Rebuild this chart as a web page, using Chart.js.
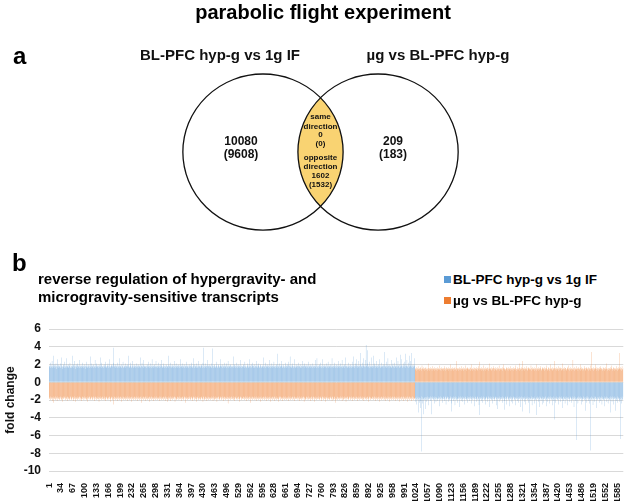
<!DOCTYPE html>
<html>
<head>
<meta charset="utf-8">
<script src="https://cdn.jsdelivr.net/npm/chart.js@4"></script>
<style>
body { margin: 0; background: #fff; font-family: 'Liberation Sans', Arial, sans-serif; color: #000; }
#page { position: relative; width: 625px; height: 501px; overflow: hidden; }
.txt { position: absolute; font-weight: bold; white-space: nowrap; }
#mainTitle { left: 0; width: 646px; text-align: center; top: 2px; font-size: 20px; line-height: 20px; }
#panelA { left: 13px; top: 44px; font-size: 24px; line-height: 24px; }
#panelB { left: 12px; top: 251px; font-size: 24px; line-height: 24px; }
#subTitle { left: 38px; top: 270px; font-size: 15px; line-height: 18px; }
.legendItem { position: absolute; left: 444px; font-weight: bold; font-size: 13.5px; line-height: 13.5px; white-space: nowrap; }
.legendItem span { display: inline-block; width: 7px; height: 7px; margin-right: 2px; vertical-align: 1px; }
#vennChart { position: absolute; left: 0; top: 0; }
#barChart { position: absolute; left: 0; top: 300px; }
</style>
</head>
<body>
<div id="page">
  <canvas id="vennChart" width="625" height="250"></canvas>
  <canvas id="barChart" width="625" height="201"></canvas>
  <div class="txt" id="mainTitle">parabolic flight experiment</div>
  <div class="txt" id="panelA">a</div>
  <div class="txt" id="panelB">b</div>
  <div class="txt" id="subTitle">reverse regulation of hypergravity- and<br>microgravity-sensitive transcripts</div>
  <div class="legendItem" id="legend0" style="top:273px"><span style="background:#5b9bd5"></span>BL-PFC hyp-g vs 1g IF</div>
  <div class="legendItem" id="legend1" style="top:294px"><span style="background:#ed7d31"></span>µg vs BL-PFC hyp-g</div>
</div>
<script>
// ---- venn diagram (panel a) ----
const vennSets = ['BL-PFC hyp-g vs 1g IF', 'µg vs BL-PFC hyp-g'];
const uniqueCounts = [10080, 209];
const uniqueCountsAlt = [9608, 183];
const sameDirection = [0, 0];
const oppositeDirection = [1602, 1532];

// ---- fold changes (panel b) ----
const seriesNames = ['BL-PFC hyp-g vs 1g IF', 'µg vs BL-PFC hyp-g'];
const tickEvery = 33;

// transcripts 1-1021: up in hyp-g, down in µg
const hypUp = [
1.9,1.7,1.8,2.2,1.6,1.8,1.9,1.7,2.4,1.8,1.6,1.9,3.0,1.7,1.8,2.0,1.6,1.9,1.7,2.1,1.8,1.5,1.9,2.6,1.7,1.8,1.6,2.0,1.9,1.7,
1.8,2.1,1.6,1.7,2.8,1.9,1.7,1.5,1.8,2.0,1.7,1.9,1.6,2.3,1.8,1.7,1.9,1.6,1.8,2.7,1.7,1.9,1.8,1.6,2.0,1.7,1.8,1.9,2.2,1.6,
1.7,1.9,1.8,1.6,3.0,1.8,1.7,2.0,1.9,1.6,1.8,2.4,1.7,1.9,1.5,1.8,2.0,1.7,1.6,1.9,2.1,1.8,1.7,1.9,1.6,2.5,1.8,1.7,1.9,1.8,
1.6,1.9,1.8,2.2,1.7,1.8,1.6,1.9,2.0,1.7,1.8,1.5,1.9,1.7,2.3,1.8,1.6,1.9,1.7,1.8,2.0,1.7,1.9,1.6,1.8,2.9,1.7,1.8,2.1,1.6,
1.9,1.7,1.8,2.0,1.6,1.9,1.8,1.7,2.5,1.8,1.6,1.9,1.7,2.1,1.8,1.7,1.9,1.6,1.8,2.0,1.7,1.9,1.8,2.8,1.7,1.6,1.9,2.2,1.8,1.7,
1.8,1.6,1.9,1.7,2.0,1.8,1.7,2.3,1.9,1.6,1.8,1.7,1.9,1.8,2.1,1.6,1.8,1.9,1.7,2.6,1.8,1.7,1.6,1.9,1.8,2.0,1.7,1.9,1.8,2.2,
3.9,1.8,1.7,1.9,1.6,1.8,2.0,1.7,1.9,1.8,1.6,2.2,1.8,1.7,1.9,1.6,1.8,2.7,1.7,1.9,1.8,1.6,2.0,1.7,1.8,1.9,2.3,1.7,1.6,1.8,
1.9,1.7,1.8,2.1,1.6,1.9,1.8,1.7,2.0,1.8,1.7,3.0,1.9,1.6,1.8,1.7,2.2,1.9,1.8,1.6,1.7,1.9,2.4,1.8,1.7,1.6,1.9,1.8,2.0,1.7,
1.8,1.6,1.9,1.7,2.1,1.8,1.9,1.7,1.6,1.8,2.0,1.7,1.9,1.8,2.8,1.7,1.6,1.9,1.8,2.2,1.7,1.8,1.9,1.6,2.5,1.8,1.7,1.9,1.8,1.7,
1.9,1.8,1.6,2.0,1.7,1.9,1.8,2.3,1.7,1.6,1.8,1.9,1.7,2.1,1.8,1.6,1.9,2.6,1.8,1.7,1.9,1.6,1.8,2.0,1.7,1.9,1.8,1.7,2.4,1.8,
1.7,1.9,1.8,1.6,2.2,1.8,1.7,1.9,1.6,1.8,2.0,1.7,1.8,1.9,2.5,1.7,1.6,1.8,1.9,1.7,2.1,1.8,1.6,1.9,1.7,1.8,2.0,1.6,1.9,1.8,
1.8,1.7,1.9,3.0,1.6,1.8,1.9,1.7,2.2,1.8,1.6,1.9,1.7,1.8,2.0,1.7,1.9,1.6,1.8,2.4,1.7,1.8,1.9,1.6,2.1,1.8,1.7,1.9,1.8,1.6,
1.9,1.7,2.0,1.8,1.6,1.9,1.7,2.6,1.8,1.7,1.9,1.6,1.8,2.1,1.7,1.9,1.8,1.6,2.0,1.7,1.8,1.9,1.6,2.3,1.8,1.7,1.9,1.8,1.6,1.9,
1.7,1.8,2.0,1.6,1.9,1.8,1.7,2.2,1.9,1.6,1.8,1.7,2.7,1.9,1.8,1.6,2.0,1.7,1.9,1.8,1.6,2.1,1.8,1.7,1.9,1.6,1.8,2.4,1.7,1.9,
1.8,1.6,1.9,1.7,2.0,1.8,1.9,1.6,1.8,2.2,3.9,1.7,1.8,1.9,1.6,2.1,1.8,1.7,1.9,1.8,1.6,1.9,2.5,1.7,1.8,1.9,1.6,1.8,2.0,1.7,
1.9,1.8,1.6,2.1,1.7,3.8,1.8,1.9,1.6,1.8,1.7,2.0,1.9,1.8,1.6,1.7,2.3,1.8,1.9,1.7,1.6,1.8,1.9,2.0,1.7,1.8,1.6,1.9,2.6,1.8,
1.7,1.9,1.8,1.6,2.0,1.8,1.7,1.9,2.2,1.6,1.8,1.9,1.7,1.8,2.1,1.6,1.9,1.8,1.7,2.4,1.8,1.6,1.9,1.7,1.8,2.0,1.9,1.6,1.8,1.7,
1.9,1.7,1.8,1.6,2.9,1.8,1.9,1.7,2.0,1.6,1.8,1.9,1.7,2.2,1.8,1.6,1.9,1.8,1.7,2.0,1.6,1.8,1.9,1.7,2.5,1.8,1.6,1.9,1.8,1.7,
1.8,2.0,1.7,1.9,1.6,1.8,2.3,1.7,1.9,1.8,1.6,1.7,1.9,2.1,1.8,1.7,1.6,1.9,1.8,2.6,1.7,1.9,1.8,1.6,2.0,1.7,1.8,1.9,2.2,1.6,
1.9,1.8,1.7,2.0,1.6,1.9,1.8,1.7,2.4,1.8,1.6,1.9,1.7,1.8,2.1,1.9,1.7,1.6,1.8,1.9,2.0,1.7,1.8,1.6,1.9,1.8,1.7,2.8,1.8,1.6,
1.8,1.7,1.9,2.2,1.6,1.8,1.9,1.7,1.8,2.0,1.7,1.6,1.9,1.8,2.5,1.7,1.8,1.9,1.6,1.8,2.1,1.7,1.9,1.8,1.6,1.9,1.7,2.3,1.8,1.7,
1.9,1.6,1.8,2.0,1.7,1.9,3.2,1.8,1.6,1.9,1.7,1.8,2.1,1.6,1.9,1.8,1.7,2.4,1.8,1.9,1.6,1.7,1.9,1.8,2.0,1.7,1.8,1.6,1.9,2.2,
1.7,1.9,1.8,1.6,2.0,1.8,1.7,1.9,2.3,1.6,1.8,1.9,2.9,1.7,1.8,1.6,1.9,1.7,2.1,1.8,1.9,1.6,1.8,1.7,2.6,1.8,1.9,1.7,1.6,1.8,
2.0,1.7,1.9,1.8,1.6,2.2,1.8,1.7,1.9,1.8,1.6,2.0,1.7,1.9,1.8,1.6,2.4,1.8,1.7,1.9,1.8,1.6,1.9,2.1,1.7,1.8,1.9,1.6,1.8,2.0,
1.7,1.9,1.8,1.6,2.3,1.8,1.7,1.9,1.6,1.8,2.0,1.7,1.9,1.8,1.6,2.1,1.8,1.7,1.9,1.8,1.6,1.9,2.5,1.7,1.8,1.9,1.6,2.7,1.8,1.7,
1.9,1.8,1.6,2.0,1.7,1.9,1.8,2.2,1.7,1.6,1.8,1.9,1.7,2.6,1.8,1.6,1.9,1.7,1.8,2.0,1.7,1.9,1.8,1.6,2.1,1.8,1.7,1.9,2.3,1.8,
1.6,1.8,1.9,1.7,2.0,1.8,1.6,1.9,1.7,2.7,1.8,1.7,1.9,1.6,1.8,2.2,1.9,1.7,1.8,1.6,1.9,2.0,1.7,1.8,1.9,1.6,2.4,1.8,1.7,1.9,
1.8,1.6,2.1,1.7,1.9,1.8,1.7,2.5,1.8,1.6,1.9,1.7,1.8,2.0,1.6,1.9,1.8,2.8,1.7,1.9,1.8,1.6,1.7,1.9,2.2,1.8,1.7,1.6,1.9,1.8,
2.0,1.7,1.9,1.8,1.6,2.3,1.8,1.7,1.9,2.9,1.7,1.8,1.6,1.9,2.1,1.8,1.7,1.9,2.6,1.8,1.6,1.9,1.8,1.7,2.4,1.9,1.8,1.6,2.0,3.3,
1.8,1.9,1.7,2.2,1.8,1.6,1.9,2.7,1.8,1.7,1.9,1.8,2.5,1.7,4.2,1.8,1.9,2.1,1.7,3.6,1.8,1.7,1.9,2.3,1.6,1.8,1.9,1.7,2.8,1.8,
1.7,1.9,1.8,1.6,3.0,1.8,1.7,2.1,1.9,1.8,1.6,1.9,2.4,1.7,1.8,1.9,1.6,1.8,2.0,1.7,1.9,1.8,2.6,1.7,1.6,1.9,1.8,1.7,2.2,1.8,
1.9,1.7,1.8,2.0,1.6,1.9,3.4,1.8,1.7,1.9,2.3,1.8,1.6,1.9,1.7,2.7,1.8,1.9,1.6,1.8,2.0,1.7,1.9,1.8,2.5,1.7,1.6,1.9,1.8,2.1,
1.8,1.7,1.9,1.6,2.2,1.8,1.9,1.7,2.8,1.8,1.6,1.9,1.7,2.4,1.8,1.9,1.7,1.6,2.0,3.1,1.8,1.7,1.9,2.6,1.8,1.6,1.9,1.7,2.1,1.8,
1.9,1.7,2.3,1.8,3.2,1.6,1.9,1.8,2.5,1.7,1.8,1.9,1.6,2.2,1.8,1.7,3.0,1.9,1.8,2.4,1.7,3.3,1.8,1.9,1.6,2.0,1.8,1.7,2.7,1.9,
1.8
];
const microDown = [
-1.8,-1.7,-1.9,-1.6,-2.0,-1.8,-1.7,-1.9,-1.8,-2.1,-1.7,-1.6,-2.3,-1.8,-1.9,-1.7,-1.8,-2.0,-1.6,-1.9,-1.8,-1.7,-2.1,-1.8,-1.6,-1.9,-1.7,-1.8,-2.0,-1.7,
-1.9,-1.8,-1.6,-1.7,-2.0,-1.9,-1.8,-1.7,-2.2,-1.6,-1.8,-1.9,-1.7,-1.8,-1.6,-2.0,-1.8,-1.7,-1.9,-1.8,-2.1,-1.7,-1.6,-1.9,-1.8,-1.7,-2.0,-1.8,-1.9,-1.6,
-1.7,-1.8,-2.0,-1.9,-1.7,-1.6,-1.8,-2.1,-1.7,-1.9,-1.8,-1.6,-1.9,-1.7,-2.2,-1.8,-1.7,-1.9,-1.6,-1.8,-2.0,-1.7,-1.8,-1.9,-1.7,-1.6,-2.0,-1.8,-1.7,-1.9,
-1.8,-2.1,-1.7,-1.6,-1.9,-1.8,-1.7,-2.0,-1.8,-1.6,-1.9,-1.7,-1.8,-2.0,-1.7,-1.9,-1.6,-1.8,-2.2,-1.7,-1.8,-1.9,-1.6,-1.7,-2.0,-1.8,-1.9,-1.7,-1.6,-1.8,
-2.0,-1.7,-1.9,-1.8,-1.6,-1.7,-2.1,-1.8,-1.9,-1.7,-1.6,-1.8,-2.0,-1.7,-1.9,-1.8,-1.6,-1.7,-1.9,-2.2,-1.8,-1.7,-1.6,-1.9,-1.8,-2.0,-1.7,-1.8,-1.9,-1.6,
-1.7,-1.9,-1.8,-2.0,-1.6,-1.8,-1.7,-1.9,-2.1,-1.8,-1.7,-1.6,-1.9,-1.8,-2.0,-1.7,-1.8,-1.9,-1.6,-1.7,-2.2,-1.8,-1.9,-1.7,-1.6,-1.8,-2.0,-1.7,-1.9,-2.5,
-1.8,-1.6,-1.9,-1.7,-2.0,-1.8,-1.7,-1.9,-1.6,-1.8,-2.1,-1.7,-1.8,-1.9,-1.6,-1.7,-2.0,-1.8,-1.9,-1.7,-1.6,-1.8,-2.2,-1.7,-1.9,-1.8,-1.6,-1.7,-2.0,-1.8,
-1.9,-1.7,-1.8,-1.6,-2.0,-1.9,-1.7,-1.8,-2.1,-1.6,-1.8,-1.9,-1.7,-2.0,-1.8,-1.6,-1.9,-1.7,-1.8,-2.2,-1.7,-1.6,-1.9,-1.8,-1.7,-2.0,-1.8,-1.9,-1.6,-1.7,
-1.8,-2.0,-1.7,-1.9,-1.6,-1.8,-2.1,-1.7,-1.8,-1.9,-1.6,-1.7,-2.0,-1.8,-1.9,-1.7,-1.6,-2.3,-1.8,-1.7,-1.9,-1.8,-1.6,-2.0,-1.7,-1.9,-1.8,-1.7,-1.6,-2.1,
-1.7,-1.8,-1.9,-1.6,-2.0,-1.8,-1.7,-1.9,-1.8,-1.6,-2.2,-1.7,-1.8,-1.9,-1.7,-2.0,-1.6,-1.8,-1.9,-1.7,-1.8,-2.1,-1.7,-1.6,-1.9,-1.8,-1.7,-2.0,-1.8,-1.9,
-1.6,-1.8,-1.7,-2.0,-1.9,-1.7,-1.8,-1.6,-2.1,-1.8,-1.9,-1.7,-1.6,-1.8,-2.0,-1.7,-1.9,-1.8,-1.7,-1.6,-2.0,-1.8,-1.9,-1.7,-1.6,-2.1,-1.8,-1.7,-1.9,-2.2,
-1.7,-1.9,-1.8,-1.6,-2.0,-1.7,-1.8,-1.9,-1.6,-2.1,-1.8,-1.7,-1.9,-1.8,-1.6,-2.0,-1.7,-1.8,-1.9,-1.7,-1.6,-2.2,-1.8,-1.7,-1.9,-1.8,-2.0,-1.6,-1.7,-1.9,
-1.8,-1.7,-2.0,-1.9,-1.6,-1.8,-1.7,-1.9,-2.1,-1.7,-1.8,-1.6,-1.9,-1.7,-2.0,-1.8,-1.9,-1.6,-1.7,-1.8,-2.3,-1.7,-1.9,-1.8,-1.6,-1.7,-2.0,-1.8,-1.9,-1.7,
-1.9,-1.6,-1.8,-1.7,-2.0,-1.9,-1.8,-1.6,-1.7,-2.1,-1.8,-1.9,-1.7,-1.6,-1.8,-2.0,-1.7,-1.9,-1.8,-1.6,-1.7,-2.2,-1.9,-1.8,-1.7,-1.6,-2.0,-1.8,-1.9,-1.7,
-1.8,-1.7,-1.9,-2.0,-1.6,-1.8,-1.7,-1.9,-1.8,-2.2,-1.6,-1.7,-1.9,-1.8,-2.0,-1.7,-1.6,-1.9,-1.8,-1.7,-2.1,-1.8,-1.9,-1.6,-1.7,-2.0,-1.8,-1.7,-1.9,-1.8,
-1.7,-2.0,-1.8,-1.6,-1.9,-1.7,-1.8,-2.1,-1.6,-1.8,-1.9,-1.7,-2.0,-1.8,-1.6,-1.9,-1.7,-1.8,-2.2,-1.7,-1.8,-1.9,-1.6,-1.7,-2.0,-1.8,-1.9,-1.7,-1.6,-1.8,
-2.0,-1.7,-1.9,-1.8,-1.6,-1.7,-2.1,-1.8,-1.9,-1.7,-1.6,-1.8,-2.0,-1.7,-1.9,-1.8,-1.6,-1.7,-1.9,-2.4,-1.8,-1.7,-1.6,-1.9,-1.8,-2.0,-1.7,-1.8,-1.9,-1.6,
-1.7,-1.9,-1.8,-2.0,-1.6,-1.8,-1.7,-1.9,-2.1,-1.8,-1.7,-1.6,-1.9,-1.8,-2.0,-1.7,-1.8,-1.9,-1.6,-1.7,-2.2,-1.8,-1.9,-1.7,-1.6,-1.8,-2.0,-1.7,-1.9,-1.8,
-1.8,-1.6,-1.9,-1.7,-2.0,-1.8,-1.7,-1.9,-1.6,-1.8,-2.1,-1.7,-1.8,-1.9,-1.6,-1.7,-2.0,-1.8,-1.9,-1.7,-1.6,-1.8,-2.3,-1.7,-1.9,-1.8,-1.6,-1.7,-2.0,-1.8,
-1.9,-1.7,-1.8,-1.6,-2.0,-1.9,-1.7,-1.8,-2.1,-1.6,-1.8,-1.9,-1.7,-2.0,-1.8,-1.6,-1.9,-1.7,-1.8,-2.2,-1.7,-1.6,-1.9,-1.8,-1.7,-2.0,-1.8,-1.9,-1.6,-1.7,
-1.8,-2.0,-1.7,-1.9,-1.6,-1.8,-2.1,-1.7,-1.8,-1.9,-1.6,-1.7,-2.0,-1.8,-1.9,-1.7,-1.6,-2.2,-1.8,-1.7,-1.9,-1.8,-1.6,-2.0,-1.7,-1.9,-1.8,-1.7,-1.6,-2.1,
-1.7,-1.8,-1.9,-1.6,-2.0,-1.8,-1.7,-1.9,-1.8,-2.2,-1.9,-1.7,-1.8,-1.6,-1.7,-2.0,-1.6,-1.8,-1.9,-1.7,-1.8,-2.1,-1.7,-1.6,-1.9,-1.8,-1.7,-2.0,-1.8,-1.9,
-1.6,-1.8,-1.7,-2.0,-1.9,-1.7,-1.8,-1.6,-2.1,-1.8,-1.9,-1.7,-1.6,-1.8,-2.0,-1.7,-1.9,-1.8,-1.7,-1.6,-2.0,-1.8,-1.9,-1.7,-1.6,-2.1,-1.8,-1.7,-1.9,-1.8,
-1.7,-1.9,-1.8,-1.6,-2.0,-1.7,-1.8,-1.9,-1.6,-2.1,-1.8,-1.7,-1.9,-1.8,-1.6,-2.0,-1.7,-1.8,-1.9,-1.7,-1.6,-2.2,-1.8,-1.7,-1.9,-1.8,-2.0,-1.6,-1.7,-1.9,
-1.8,-1.7,-2.0,-1.9,-1.6,-1.8,-1.7,-1.9,-2.1,-1.7,-1.8,-1.6,-1.9,-1.7,-2.0,-1.8,-1.9,-1.6,-1.7,-1.8,-2.2,-1.7,-1.9,-1.8,-1.6,-1.7,-2.0,-1.8,-1.9,-1.7,
-1.9,-1.6,-1.8,-1.7,-2.0,-1.9,-1.8,-1.6,-1.7,-2.1,-1.8,-1.9,-1.7,-1.6,-1.8,-2.0,-1.7,-1.9,-1.8,-1.6,-1.7,-2.2,-1.9,-1.8,-1.7,-1.6,-2.0,-1.8,-1.9,-1.7,
-1.8,-1.7,-1.9,-2.0,-1.6,-1.8,-1.7,-1.9,-1.8,-2.1,-1.6,-1.7,-1.9,-1.8,-2.0,-1.7,-1.6,-1.9,-1.8,-2.3,-2.0,-1.8,-1.9,-1.6,-1.7,-2.0,-1.8,-1.7,-1.9,-1.8,
-1.7,-2.0,-1.8,-1.6,-1.9,-1.7,-1.8,-2.1,-1.6,-1.8,-1.9,-1.7,-2.0,-1.8,-1.6,-1.9,-1.7,-1.8,-2.2,-1.7,-1.8,-1.9,-1.6,-1.7,-2.0,-1.8,-1.9,-1.7,-1.6,-1.8,
-2.0,-1.7,-1.9,-1.8,-1.6,-1.7,-2.1,-1.8,-1.9,-1.7,-1.6,-1.8,-2.0,-1.7,-1.9,-1.8,-1.6,-1.7,-1.9,-2.1,-1.8,-1.7,-1.6,-1.9,-1.8,-2.0,-1.7,-1.8,-1.9,-1.6,
-1.7,-1.9,-1.8,-2.0,-1.6,-1.8,-1.7,-1.9,-2.1,-1.8,-1.7,-1.6,-1.9,-1.8,-2.0,-1.7,-1.8,-1.9,-1.6,-1.7,-2.2,-1.8,-1.9,-1.7,-1.6,-1.8,-2.0,-1.7,-1.9,-1.8,
-1.8,-1.6,-1.9,-1.7,-2.0,-1.8,-1.7,-1.9,-1.6,-1.8,-2.1,-1.7,-1.8,-1.9,-1.6,-1.7,-2.0,-1.8,-1.9,-1.7,-1.6,-1.8,-2.2,-1.7,-1.9,-1.8,-1.6,-1.7,-2.0,-1.8,
-1.9,-1.7,-1.8,-1.6,-2.0,-1.9,-1.7,-1.8,-2.1,-1.6,-1.8,-1.9,-1.7,-2.0,-1.8,-1.6,-1.9,-1.7,-1.8,-2.2,-1.7,-1.6,-1.9,-1.8,-1.7,-2.0,-1.8,-1.9,-1.6,-1.7,
-1.8,-2.0,-1.7,-1.9,-1.6,-1.8,-2.1,-1.7,-1.8,-1.9,-1.6,-1.7,-2.0,-1.8,-1.9,-1.7,-1.6,-2.2,-1.8,-1.7,-1.9,-1.8,-1.6,-2.0,-1.7,-1.9,-1.8,-1.7,-1.6,-2.1,
-1.7,-1.8,-1.9,-1.6,-2.0,-1.8,-1.7,-1.9,-1.8,-1.6,-2.2,-1.7,-1.8,-1.9,-1.7,-2.0,-1.6,-1.8,-1.9,-1.7,-1.8,-2.1,-1.7,-1.6,-1.9,-1.8,-1.7,-2.0,-1.8,-1.9,
-1.8
];
// transcripts 1022-1602: down in hyp-g, up in µg
const microUp = [
1.5,1.4,1.6,1.3,1.7,1.5,1.4,1.6,1.8,1.5,1.4,1.3,1.6,1.5,1.7,1.4,1.6,1.5,1.3,1.9,1.5,1.6,1.4,1.5,1.7,1.3,1.6,1.5,1.4,1.6,
1.7,1.5,1.4,1.6,1.3,1.5,2.1,1.4,1.6,1.5,1.3,1.6,1.5,1.7,1.4,1.5,1.6,1.3,1.5,1.8,1.4,1.6,1.5,1.3,1.7,1.5,1.4,1.6,1.5,1.4,
1.6,1.3,1.5,1.7,1.4,1.6,1.5,1.9,1.4,1.5,1.6,1.4,1.3,1.5,1.7,1.6,1.4,1.5,1.6,1.3,1.5,1.8,1.4,1.6,1.5,1.3,1.6,1.4,1.7,1.5,
1.4,1.6,1.5,1.3,1.7,1.5,1.6,1.4,1.5,2.0,1.3,1.5,1.6,1.4,1.7,1.5,1.3,1.6,1.5,1.4,1.6,1.7,1.4,1.5,1.6,1.3,2.4,1.5,1.4,1.6,
1.5,1.3,1.6,1.4,1.7,1.5,1.6,1.4,1.3,1.8,1.5,1.6,1.4,1.5,1.3,1.7,1.5,1.6,1.4,1.5,1.9,1.4,1.6,1.5,1.3,1.6,1.5,1.7,1.4,1.5,
1.6,1.4,1.5,1.7,1.3,1.6,1.5,1.4,2.0,1.5,1.3,1.6,1.4,1.5,1.7,1.6,1.4,1.3,1.5,1.6,1.4,1.7,1.5,1.6,1.4,1.3,1.5,1.8,1.6,1.4,
2.3,1.5,1.4,1.6,1.3,1.7,1.5,1.4,1.6,1.5,1.3,1.9,1.5,1.6,1.4,1.5,1.7,1.3,1.6,1.4,1.5,1.6,1.4,1.7,1.5,1.3,1.6,1.5,2.1,1.4,
1.6,1.5,1.3,1.7,1.4,1.6,1.5,1.4,1.6,1.8,1.5,1.3,1.6,1.4,1.5,1.7,1.6,1.4,1.3,1.5,1.7,1.4,1.6,1.5,1.9,1.3,1.5,1.6,1.4,1.5,
1.4,1.6,1.5,1.7,1.3,1.5,1.6,2.0,1.4,1.5,1.6,1.3,1.5,1.4,1.7,1.6,1.5,1.4,1.6,1.3,1.5,1.7,1.4,1.6,1.5,1.8,1.3,1.5,1.6,1.4,
1.5,1.4,1.6,1.3,1.7,1.5,1.4,1.6,1.5,1.9,1.4,1.6,1.5,1.3,1.5,1.7,1.4,1.6,1.5,1.4,1.6,1.3,2.1,1.5,1.4,1.6,1.5,1.7,1.3,1.6,
2.4,1.5,1.4,1.6,1.5,1.3,1.7,1.5,1.6,1.4,1.5,1.8,1.6,1.4,1.3,1.5,1.6,1.7,1.4,1.5,1.6,1.4,1.5,1.9,1.6,1.3,1.5,1.4,1.7,1.5,
1.4,1.6,1.3,1.5,1.7,1.4,1.6,1.5,2.0,1.3,1.5,1.6,1.4,1.7,1.5,1.3,1.6,1.4,1.5,1.8,1.6,1.5,1.3,1.4,1.6,1.7,1.5,1.4,1.6,1.5,
1.3,1.7,1.5,1.6,1.4,1.5,1.9,1.6,1.4,1.3,1.5,1.6,1.7,1.4,1.5,1.3,1.6,1.5,2.0,1.4,1.6,1.5,1.3,1.7,1.4,1.6,1.5,1.4,1.6,2.4,
1.5,1.4,1.6,1.3,1.5,1.7,1.4,1.6,1.5,1.8,1.3,1.5,1.6,1.4,1.7,1.5,1.6,1.3,1.4,1.6,1.5,2.1,1.4,1.6,1.5,1.3,1.7,1.5,1.4,1.6,
1.6,1.3,1.5,1.4,1.7,1.6,1.5,1.4,1.9,1.5,1.3,1.6,1.5,1.7,1.4,1.5,1.6,1.3,1.5,1.4,2.5,1.6,1.4,1.5,1.7,1.3,1.6,1.5,1.4,1.8,
1.5,1.4,1.6,1.5,1.3,1.7,1.5,1.6,1.4,1.5,2.0,1.3,1.6,1.5,1.4,1.7,1.5,1.6,1.3,1.5,1.4,1.6,1.8,1.5,1.3,1.6,1.4,1.5,1.7,1.6,
1.4,1.5,1.6,1.3,1.7,1.5,1.4,1.6,1.5,1.9,1.3,1.6,3.4,1.5,1.4,1.6,1.5,1.7,1.3,1.5,1.6,1.4,1.5,2.0,1.6,1.3,1.5,1.7,1.4,1.6,
1.5,1.3,1.6,1.4,1.7,1.5,1.6,1.4,1.8,1.5,1.6,1.4,1.3,1.5,1.7,1.6,1.4,1.5,1.3,1.6,1.5,1.7,1.4,2.1,1.5,1.6,1.3,1.5,1.4,1.6,
1.4,1.6,1.5,1.3,1.7,1.5,1.4,1.6,1.9,1.5,1.3,1.5,1.6,1.4,1.7,1.5,1.6,1.3,1.5,1.4,1.6,1.8,1.4,1.5,1.6,1.3,1.7,1.5,1.4,3.3,
1.5,1.6,1.4,1.7,1.5,1.3,1.6,1.8,1.5,1.4,1.6
];
const hypDown = [
-1.8,-2.2,-1.7,-1.9,-2.5,-1.6,-1.8,-2.0,-1.7,-3.4,-1.9,-1.8,-2.3,-1.7,-2.9,-1.8,-2.1,-1.6,-7.8,-1.9,-1.7,-2.4,-1.8,-3.6,-1.9,-1.7,-2.0,-1.8,-3.0,-1.7,
-1.9,-1.7,-2.2,-1.8,-1.6,-2.0,-1.9,-1.7,-2.6,-1.8,-1.7,-1.9,-1.6,-2.1,-1.8,-1.7,-3.6,-1.9,-1.8,-1.6,-2.0,-1.7,-1.9,-2.4,-1.8,-1.6,-1.9,-1.7,-2.2,-1.8,
-1.7,-1.9,-1.8,-2.1,-1.6,-1.8,-1.9,-2.7,-1.7,-1.8,-1.9,-1.6,-2.0,-1.8,-1.7,-1.9,-2.3,-1.8,-1.6,-1.9,-1.7,-1.8,-2.1,-1.9,-1.7,-1.6,-2.5,-1.8,-1.9,-1.7,
-1.8,-1.6,-1.9,-2.2,-1.7,-1.8,-2.0,-1.9,-1.6,-1.8,-1.7,-2.4,-3.3,-1.8,-1.9,-1.7,-1.6,-2.1,-1.8,-1.9,-1.7,-2.6,-1.8,-1.6,-1.9,-2.0,-1.7,-1.8,-2.3,-1.9,
-1.6,-1.8,-1.9,-1.7,-2.8,-1.8,-1.6,-1.9,-2.1,-1.7,-1.8,-1.9,-1.6,-2.2,-1.8,-1.7,-1.9,-1.8,-2.5,-1.6,-1.9,-1.7,-1.8,-2.0,-1.9,-1.6,-1.8,-2.3,-1.7,-1.9,
-1.8,-2.1,-1.7,-1.9,-1.6,-1.8,-2.4,-1.7,-1.9,-1.8,-1.6,-2.0,-1.8,-1.7,-1.9,-2.7,-1.8,-1.6,-1.9,-1.7,-2.2,-1.8,-1.9,-1.6,-1.7,-2.0,-1.9,-1.8,-2.6,-1.7,
-3.7,-1.8,-1.9,-1.7,-2.1,-1.6,-1.8,-1.9,-2.3,-1.7,-1.8,-1.6,-1.9,-2.0,-1.7,-1.8,-2.5,-1.9,-1.6,-1.8,-1.7,-1.9,-2.2,-1.8,-1.6,-1.9,-1.7,-2.8,-1.8,-1.9,
-1.6,-1.8,-2.0,-1.7,-1.9,-1.8,-2.4,-1.6,-1.9,-1.7,-1.8,-2.1,-1.9,-1.7,-1.6,-1.8,-2.6,-1.9,-1.7,-1.8,-3.0,-1.7,-1.9,-1.8,-2.2,-1.6,-1.8,-1.9,-1.7,-2.0,
-1.9,-1.7,-1.8,-2.3,-1.6,-1.9,-1.8,-1.7,-2.1,-1.8,-3.1,-1.6,-1.9,-1.7,-1.8,-2.5,-1.9,-1.7,-1.6,-1.8,-2.0,-1.9,-1.7,-2.7,-1.8,-1.6,-1.9,-1.8,-2.2,-1.7,
-1.8,-1.9,-2.4,-1.7,-1.6,-1.8,-2.0,-1.9,-1.7,-1.8,-2.6,-1.7,-1.9,-1.8,-1.6,-2.1,-1.8,-1.9,-1.7,-2.3,-1.8,-1.6,-1.9,-1.7,-2.8,-1.8,-1.9,-1.6,-2.0,-1.7,
-3.3,-1.8,-1.9,-1.7,-2.2,-1.6,-1.8,-1.9,-2.5,-1.7,-1.8,-1.9,-1.6,-2.0,-1.8,-1.7,-2.3,-1.9,-1.8,-3.5,-1.7,-1.9,-1.8,-2.1,-1.6,-1.8,-2.6,-1.7,-1.9,-1.8,
-1.9,-1.7,-2.4,-1.8,-1.6,-1.9,-2.0,-1.8,-1.7,-3.7,-1.8,-1.6,-1.9,-2.2,-1.7,-1.8,-2.8,-1.9,-1.6,-1.8,-1.7,-2.1,-1.9,-1.8,-2.5,-1.6,-1.8,-1.9,-1.7,-2.3,
-1.8,-1.9,-1.7,-2.0,-1.6,-1.8,-2.7,-1.9,-1.7,-1.8,-2.2,-1.6,-1.9,-1.8,-1.7,-2.4,-1.9,-1.8,-1.6,-2.0,-1.7,-1.9,-1.8,-2.6,-1.7,-1.6,-1.9,-2.1,-1.8,-4.2,
-1.7,-1.8,-2.3,-1.9,-1.6,-1.8,-1.7,-2.0,-1.9,-1.8,-2.5,-1.7,-1.6,-1.9,-1.8,-2.2,-1.7,-1.9,-1.8,-1.6,-2.9,-1.8,-1.9,-1.7,-2.1,-1.6,-1.8,-1.9,-2.4,-1.7,
-1.9,-1.6,-1.8,-2.0,-1.7,-2.6,-1.8,-1.9,-1.7,-1.8,-2.2,-1.9,-1.6,-1.8,-1.7,-2.3,-1.9,-1.8,-1.6,-2.0,-1.8,-1.7,-1.9,-2.8,-1.6,-1.8,-1.9,-1.7,-2.1,-1.8,
-6.5,-1.9,-1.7,-1.8,-2.4,-1.6,-1.9,-1.8,-1.7,-2.0,-1.8,-1.9,-1.6,-2.5,-1.8,-1.7,-1.9,-2.2,-1.8,-1.6,-1.9,-1.7,-2.0,-1.8,-3.2,-1.9,-1.7,-1.6,-1.8,-2.3,
-1.8,-1.6,-1.9,-2.1,-1.7,-1.8,-1.9,-2.4,-7.7,-1.8,-1.7,-1.9,-1.6,-2.0,-1.8,-1.7,-2.6,-1.9,-1.8,-1.6,-2.2,-1.8,-1.9,-1.7,-1.6,-2.9,-1.8,-1.9,-1.7,-2.0,
-1.9,-1.7,-1.8,-2.3,-1.6,-1.9,-1.8,-1.7,-2.1,-1.8,-1.6,-2.5,-1.9,-1.7,-1.8,-2.0,-1.9,-1.6,-1.8,-2.7,-1.7,-1.9,-1.8,-1.6,-2.2,-1.8,-1.7,-1.9,-2.4,-1.8,
-1.8,-1.9,-2.0,-1.7,-1.6,-3.4,-1.8,-1.9,-1.7,-2.2,-1.8,-1.6,-1.9,-1.7,-2.5,-1.8,-1.9,-1.6,-3.2,-1.8,-1.7,-2.1,-1.9,-1.8,-1.6,-2.3,-1.7,-1.9,-1.8,-2.0,
-1.8,-2.2,-6.4,-1.9,-1.7,-2.4,-1.8,-1.6,-2.0,-1.9,-1.7
];

const hypVs1g = hypUp.concat(hypDown);
const microVsHyp = microDown.concat(microUp);
const transcriptLabels = hypVs1g.map((v, i) => String(i + 1));

const fontFamily = "'Liberation Sans', Arial, sans-serif";

// draws the two set ellipses, the shaded overlap and the counts
const vennPlugin = {
    id: 'venn',
    afterDatasetsDraw(chart, args, opts) {
        const ctx = chart.ctx;
        const xs = chart.scales.x;
        const ys = chart.scales.y;
        const px = v => xs.getPixelForValue(v);
        const py = v => ys.getPixelForValue(v);

        const shapes = opts.centers.map(c => ({
            cx: px(c), cy: py(0),
            rx: px(c + 1) - px(c), ry: py(0) - py(1)
        }));
        const ellipse = s => {
            ctx.beginPath();
            ctx.ellipse(s.cx, s.cy, s.rx, s.ry, 0, 0, Math.PI * 2);
        };

        ctx.save();
        // overlap
        ctx.save();
        ellipse(shapes[0]);
        ctx.clip();
        ellipse(shapes[1]);
        ctx.fillStyle = opts.lensColor;
        ctx.fill();
        ctx.restore();

        ctx.strokeStyle = '#111';
        ctx.lineWidth = 1.3;
        shapes.forEach(s => { ellipse(s); ctx.stroke(); });

        ctx.fillStyle = '#111';
        ctx.textAlign = 'center';
        ctx.textBaseline = 'middle';

        ctx.font = 'bold 15px ' + fontFamily;
        vennSets.forEach((name, i) => ctx.fillText(name, px(opts.nameX[i]), py(opts.nameY)));

        ctx.font = 'bold 12px ' + fontFamily;
        uniqueCounts.forEach((n, i) => {
            ctx.fillText(String(n), px(opts.countX[i]), py(opts.countY[0]));
            ctx.fillText('(' + uniqueCountsAlt[i] + ')', px(opts.countX[i]), py(opts.countY[1]));
        });

        ctx.font = 'bold 8px ' + fontFamily;
        const lensLines = ['same', 'direction', String(sameDirection[0]), '(' + sameDirection[1] + ')',
                           'opposite', 'direction', String(oppositeDirection[0]), '(' + oppositeDirection[1] + ')'];
        lensLines.forEach((t, i) => ctx.fillText(t, px(0), py(opts.lensY[i])));
        ctx.restore();
    }
};

new Chart(document.getElementById('vennChart'), {
    type: 'scatter',
    data: { datasets: [] },
    options: {
        responsive: false,
        animation: false,
        layout: { padding: 0 },
        plugins: {
            legend: { display: false },
            tooltip: { enabled: false },
            venn: {
                centers: [-0.718, 0.718],
                lensColor: '#f9d372',
                nameX: [-1.254, 1.466],
                nameY: 1.231,
                countX: [-0.992, 0.905],
                countY: [0.128, -0.038],
                lensY: [0.449, 0.321, 0.218, 0.103, -0.077, -0.192, -0.308, -0.423]
            }
        },
        scales: {
            x: { type: 'linear', display: false, min: -4.0, max: 3.8 },
            y: { type: 'linear', display: false, min: -1.256, max: 1.949 }
        }
    },
    plugins: [vennPlugin]
});

new Chart(document.getElementById('barChart'), {
    type: 'bar',
    data: {
        labels: transcriptLabels,
        datasets: [{
            label: seriesNames[0],
            data: hypVs1g,
            backgroundColor: '#5b9bd5'
        }, {
            label: seriesNames[1],
            data: microVsHyp,
            backgroundColor: '#ed7d31'
        }]
    },
    options: {
        responsive: false,
        animation: false,
        layout: { padding: { top: 29, right: 1.7, left: 0, bottom: 0 } },
        datasets: {
            bar: { barPercentage: 0.6, categoryPercentage: 1, inflateAmount: 0, borderWidth: 0 }
        },
        plugins: {
            legend: { display: false },
            tooltip: { enabled: false }
        },
        scales: {
            x: {
                stacked: true,
                grid: { display: false },
                border: { display: false },
                afterFit: scale => {
                    scale.height = 30;
                    scale.paddingLeft = 0;
                    scale.paddingRight = 0;
                },
                ticks: {
                    autoSkip: false,
                    minRotation: 90,
                    maxRotation: 90,
                    padding: 4,
                    color: '#111',
                    font: { family: fontFamily, size: 9, weight: 'bold' },
                    callback: function (value, index) {
                        return index % tickEvery === 0 ? this.getLabelForValue(value) : '';
                    }
                }
            },
            y: {
                min: -10,
                max: 6,
                afterFit: scale => { scale.width = 49; },
                grid: { color: '#d9d9d9', drawTicks: false },
                border: { display: false },
                ticks: {
                    stepSize: 2,
                    padding: 8,
                    color: '#111',
                    font: { family: fontFamily, size: 12, weight: 'bold' }
                },
                title: {
                    display: true,
                    text: 'fold change',
                    color: '#111',
                    padding: { top: 3, bottom: 0 },
                    font: { family: fontFamily, size: 12, weight: 'bold' }
                }
            }
        }
    }
});
</script>
</body>
</html>
